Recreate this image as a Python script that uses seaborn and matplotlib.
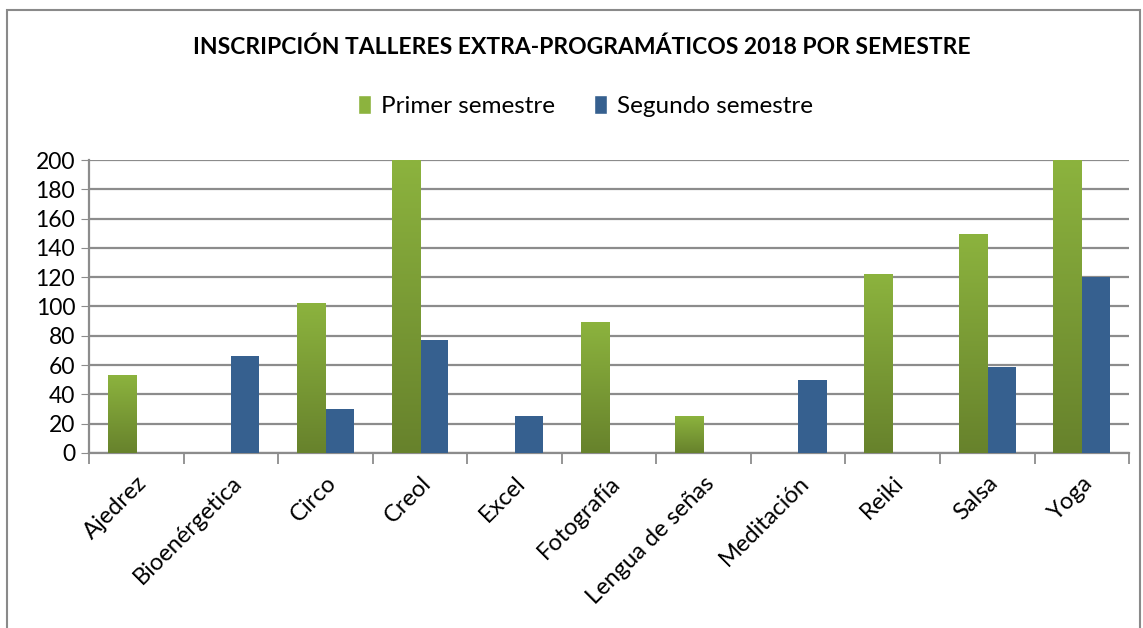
import numpy as np
import pandas as pd
import matplotlib
matplotlib.use("Agg")
import matplotlib.pyplot as plt
import seaborn as sns
from matplotlib.colors import LinearSegmentedColormap
from matplotlib.patches import Rectangle

# data
talleres = ["Ajedrez", "Bioenérgetica", "Circo", "Creol", "Excel", "Fotografía",
            "Lengua de señas", "Meditación", "Reiki", "Salsa", "Yoga"]
primer = [53, 0, 102, 200, 0, 89, 25, 0, 122, 149, 200]
segundo = [0, 66, 30, 77, 25, 0, 0, 50, 0, 59, 120]
series = ["Primer semestre", "Segundo semestre"]
y_ticks = [0, 20, 40, 60, 80, 100, 120, 140, 160, 180, 200]

df = pd.DataFrame({
    "taller": talleres * 2,
    "valor": primer + segundo,
    "semestre": [series[0]] * len(talleres) + [series[1]] * len(talleres),
})

green_light = "#8cb33e"
green_dark = "#67822c"
blue = "#36608f"
grid_col = "#8c8c8c"

sns.set_style("white")
plt.rcParams["font.family"] = ["Lato", "DejaVu Sans"]
plt.rcParams["text.color"] = "black"
plt.rcParams["xtick.labelcolor"] = "black"
plt.rcParams["ytick.labelcolor"] = "black"

fig = plt.figure(figsize=(11.43, 6.28), dpi=100)
ax = fig.add_axes([0.0779, 0.2787, 0.9099, 0.4665])

sns.barplot(data=df, x="taller", y="valor", hue="semestre", order=talleres,
            hue_order=series, palette=[green_light, blue], width=0.6,
            gap=0, saturation=1, legend=False, ax=ax, zorder=3, linewidth=0)

# vertical gradient on the green bars
cmap = LinearSegmentedColormap.from_list("g", [green_dark, green_light])
grad = np.linspace(0, 1, 256).reshape(-1, 1)
n = len(talleres)
for p in ax.patches[:n]:
    x0, w, h = p.get_x(), p.get_width(), p.get_height()
    if h <= 0:
        continue
    ax.imshow(grad, extent=[x0, x0 + w, 0, h], origin="lower", cmap=cmap,
              aspect="auto", zorder=3.5)
    p.set_alpha(0)

ax.set_xlim(-0.5, n - 0.5)
ax.set_ylim(0, 200)
ax.set_yticks(y_ticks)
ax.tick_params(axis="y", labelsize=16.5, length=6, color=grid_col, direction="out",
               left=True, pad=4, labelcolor="black")
ax.yaxis.grid(True, color=grid_col, linewidth=1.6, zorder=0)
ax.set_axisbelow(True)

# ticks between categories, labels under each category
ax.set_xticks(np.arange(-0.5, n, 1.0))
ax.set_xticklabels([])
ax.set_xticks(np.arange(n), minor=True)
ax.set_xticklabels(talleres, minor=True, rotation=45, ha="right",
                   rotation_mode="anchor", fontsize=17, color="black")
ax.tick_params(axis="x", which="major", length=8, color=grid_col, bottom=True,
               width=1.3)
ax.tick_params(axis="x", which="minor", length=0, pad=14)
ax.set_xlabel("")
ax.set_ylabel("")

for s in ["top", "right"]:
    ax.spines[s].set_visible(False)
for s in ["left", "bottom"]:
    ax.spines[s].set_color(grid_col)
    ax.spines[s].set_linewidth(1.6)

fig.text(0.509, 0.925, "INSCRIPCIÓN TALLERES EXTRA-PROGRAMÁTICOS 2018 POR SEMESTRE",
         ha="center", va="center", fontsize=16.5, fontweight="bold", color="black")

handles = [Rectangle((0, 0), 1, 1, facecolor=green_light),
           Rectangle((0, 0), 1, 1, facecolor=blue)]
fig.legend(handles, series, loc="center", bbox_to_anchor=(0.512, 0.831), ncol=2,
           frameon=False, fontsize=17.5, handlelength=0.55, handleheight=0.8,
           handletextpad=0.4, columnspacing=1.6, labelcolor="black")

# chart border
fig.patches.append(Rectangle((7 / 1143, -0.05), 1133 / 1143, 1.05 - 10 / 628,
                             transform=fig.transFigure, fill=False,
                             edgecolor="#8a8a8a", linewidth=1.5))

fig.savefig("out.png", dpi=100)
